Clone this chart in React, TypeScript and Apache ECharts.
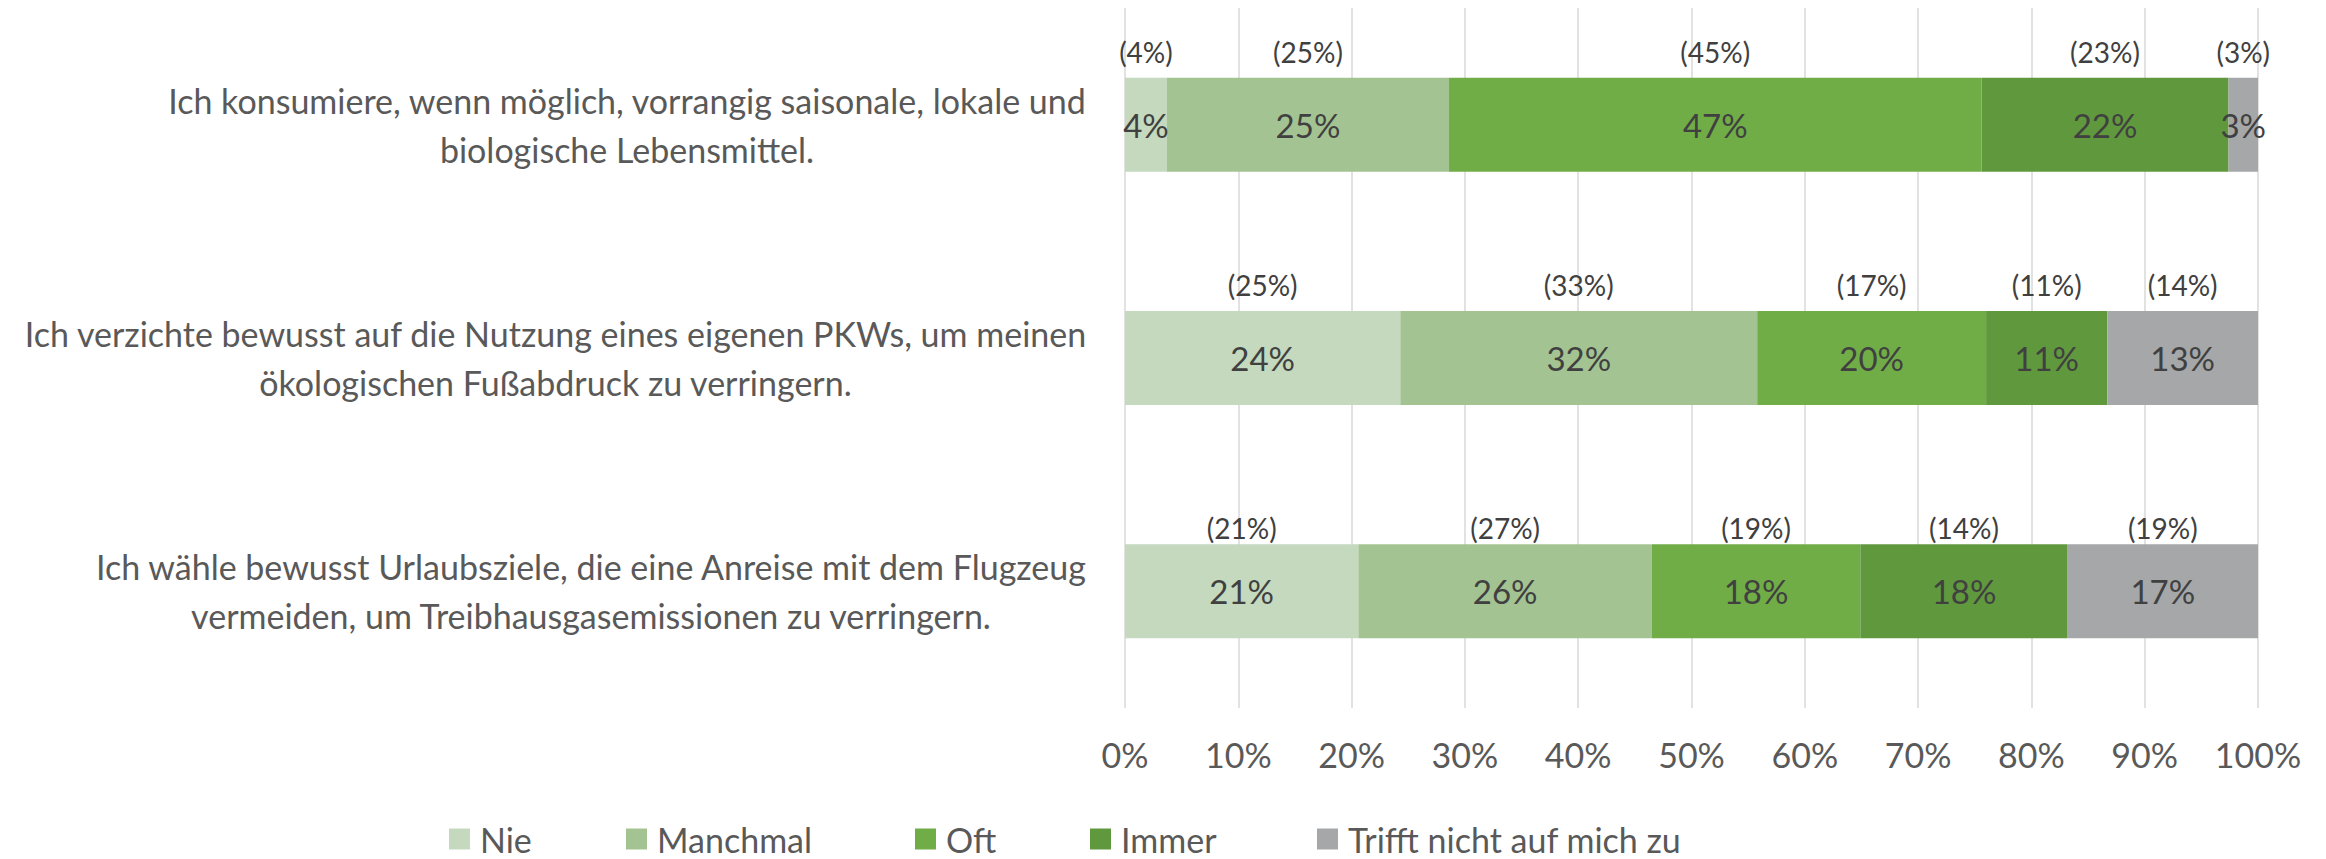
import React, { useEffect, useRef } from "react";
import * as echarts from "echarts";

const categories = [
  "Ich konsumiere, wenn möglich, vorrangig saisonale, lokale und\nbiologische Lebensmittel.",
  "Ich verzichte bewusst auf die Nutzung eines eigenen PKWs, um meinen\nökologischen Fußabdruck zu verringern.",
  "Ich wähle bewusst Urlaubsziele, die eine Anreise mit dem Flugzeug\nvermeiden, um Treibhausgasemissionen zu verringern.",
];
const seriesNames = ["Nie", "Manchmal", "Oft", "Immer", "Trifft nicht auf mich zu"];

// current shares (bar lengths, %)
const nie = [3.7, 24.3, 20.6];
const manchmal = [24.9, 31.5, 25.9];
const oft = [47.0, 20.2, 18.4];
const immer = [21.8, 10.7, 18.3];
const trifft = [2.6, 13.3, 16.8];

// values shown in parentheses above the bars (%)
const nieParen = [4, 25, 21];
const manchmalParen = [25, 33, 27];
const oftParen = [45, 17, 19];
const immerParen = [23, 11, 14];
const trifftParen = [3, 14, 19];

const colors = ["#C4D9BE", "#A3C492", "#70AD47", "#60993D", "#A5A7A8"];
const FONT = "Lato, 'Open Sans', sans-serif";

export default function App() {
  const ref = useRef<HTMLDivElement>(null);

  useEffect(() => {
    document.body.style.margin = "0";
    if (!ref.current) return;
    const chart = echarts.init(ref.current, undefined, { renderer: "svg" });

    const values = [nie, manchmal, oft, immer, trifft];
    const parens = [nieParen, manchmalParen, oftParen, immerParen, trifftParen];

    const catFontSize = 34;
    const ctx = document.createElement("canvas").getContext("2d")!;
    ctx.font = `${catFontSize}px Lato`;
    const catWidths = categories.map((c) =>
      Math.ceil(Math.max(...c.split("\n").map((l) => ctx.measureText(l).width))) + 2
    );
    const catRich: Record<string, any> = {};
    catWidths.forEach((w, i) => {
      catRich["c" + i] = {
        width: w,
        align: "center",
        fontSize: catFontSize,
        lineHeight: 49,
        color: "#595959",
        fontFamily: FONT,
      };
    });

    const parenGap = [106, 106, 87];
    const barRich: Record<string, any> = {
      v: { fontSize: 33, lineHeight: 40, color: "#404040", fontFamily: FONT },
    };
    parenGap.forEach((h, i) => {
      barRich["p" + i] = { fontSize: 28, lineHeight: h, color: "#404040", fontFamily: FONT };
      barRich["e" + i] = { fontSize: 28, lineHeight: h, color: "#404040", fontFamily: FONT };
    });

    const legendLeft = [449, 626, 915, 1090, 1317];

    chart.setOption({
      animation: false,
      backgroundColor: "#ffffff",
      grid: {
        left: 1125,
        right: 68,
        top: 8,
        bottom: 151,
        containLabel: false,
        outerBoundsMode: "none",
      },
      legend: seriesNames.map((n, i) => ({
        data: [n],
        left: legendLeft[i],
        top: 822,
        padding: 0,
        itemGap: 0,
        itemWidth: 21,
        itemHeight: 21,
        icon: "rect",
        selectedMode: false,
        textStyle: {
          fontSize: 34,
          lineHeight: 34,
          color: "#595959",
          fontFamily: FONT,
          padding: [0, 0, 0, 5],
        },
      })),
      xAxis: {
        type: "value",
        min: 0,
        max: 100,
        interval: 10,
        axisLine: { show: false },
        axisTick: { show: false },
        splitLine: { show: true, lineStyle: { color: "#D9D9D9", width: 1.5 } },
        axisLabel: {
          formatter: "{value}%",
          fontSize: 34,
          color: "#595959",
          fontFamily: FONT,
          margin: 29,
        },
      },
      yAxis: {
        type: "category",
        inverse: true,
        data: categories,
        axisLine: { show: false },
        axisTick: { show: false },
        axisLabel: {
          margin: 37,
          formatter: (value: string, idx: number) =>
            value
              .split("\n")
              .map((l) => `{c${idx}|${l}}`)
              .join("\n"),
          rich: catRich,
        },
      },
      series: seriesNames.map((name, si) => ({
        name,
        type: "bar",
        stack: "total",
        barWidth: 94,
        data: values[si],
        itemStyle: { color: colors[si] },
        emphasis: { disabled: true },
        label: {
          show: true,
          position: "inside",
          formatter: (p: any) =>
            `{p${p.dataIndex}|(${parens[si][p.dataIndex]}%)}\n{v|${Math.round(p.value)}%}\n{e${p.dataIndex}| }`,
          rich: barRich,
        },
      })),
    });

    return () => chart.dispose();
  }, []);

  return (
    <div
      ref={ref}
      style={{ position: "absolute", left: 0, top: 0, width: 2326, height: 859 }}
    />
  );
}
